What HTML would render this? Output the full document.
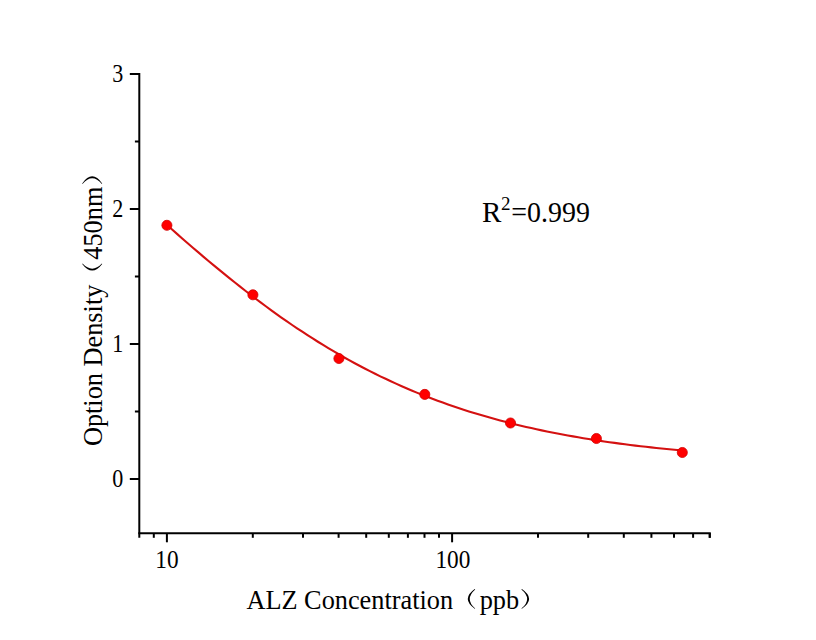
<!DOCTYPE html>
<html><head><meta charset="utf-8"><style>
html,body{margin:0;padding:0;background:#fff;width:816px;height:640px;overflow:hidden}
svg{position:absolute;left:0;top:0}
text{font-family:"Liberation Serif",serif;fill:#000}
</style></head><body>
<svg width="816" height="640" viewBox="0 0 816 640">
<rect width="816" height="640" fill="#fff"/>
<g stroke="#000" stroke-width="2" fill="none" stroke-linecap="butt">
<polyline points="139.3,73.0 139.3,537.8"/>
<polyline points="138.3,533.3 710.8,533.3"/>
<line x1="709.8" y1="533.3" x2="709.8" y2="537.8"/>
<line x1="129.8" y1="479.0" x2="139.3" y2="479.0"/>
<line x1="129.8" y1="344.0" x2="139.3" y2="344.0"/>
<line x1="129.8" y1="209.0" x2="139.3" y2="209.0"/>
<line x1="129.8" y1="74.0" x2="139.3" y2="74.0"/>
<line x1="134.9" y1="411.5" x2="139.3" y2="411.5"/>
<line x1="134.9" y1="276.5" x2="139.3" y2="276.5"/>
<line x1="134.9" y1="141.5" x2="139.3" y2="141.5"/>
<line x1="166.9" y1="533.3" x2="166.9" y2="542.3"/>
<line x1="452.1" y1="533.3" x2="452.1" y2="542.3"/>
<line x1="153.8" y1="533.3" x2="153.8" y2="537.8"/>
<line x1="252.8" y1="533.3" x2="252.8" y2="537.8"/>
<line x1="303.0" y1="533.3" x2="303.0" y2="537.8"/>
<line x1="338.6" y1="533.3" x2="338.6" y2="537.8"/>
<line x1="366.2" y1="533.3" x2="366.2" y2="537.8"/>
<line x1="388.8" y1="533.3" x2="388.8" y2="537.8"/>
<line x1="407.9" y1="533.3" x2="407.9" y2="537.8"/>
<line x1="424.5" y1="533.3" x2="424.5" y2="537.8"/>
<line x1="439.0" y1="533.3" x2="439.0" y2="537.8"/>
<line x1="538.0" y1="533.3" x2="538.0" y2="537.8"/>
<line x1="588.2" y1="533.3" x2="588.2" y2="537.8"/>
<line x1="623.8" y1="533.3" x2="623.8" y2="537.8"/>
<line x1="651.4" y1="533.3" x2="651.4" y2="537.8"/>
<line x1="674.0" y1="533.3" x2="674.0" y2="537.8"/>
<line x1="693.1" y1="533.3" x2="693.1" y2="537.8"/>
<line x1="709.7" y1="533.3" x2="709.7" y2="537.8"/>
</g>
<path d="M166.9,224.98 L172.1,229.57 L177.3,234.15 L182.5,238.70 L187.7,243.22 L192.9,247.71 L198.1,252.17 L203.3,256.60 L208.5,260.98 L213.8,265.33 L219.0,269.64 L224.2,273.90 L229.4,278.12 L234.6,282.29 L239.8,286.42 L245.0,290.49 L250.2,294.52 L255.4,298.49 L260.6,302.41 L265.8,306.28 L271.0,310.09 L276.2,313.84 L281.4,317.54 L286.6,321.17 L291.8,324.75 L297.1,328.27 L302.3,331.73 L307.5,335.13 L312.7,338.47 L317.9,341.75 L323.1,344.96 L328.3,348.12 L333.5,351.21 L338.7,354.24 L343.9,357.22 L349.1,360.13 L354.3,362.98 L359.5,365.77 L364.7,368.50 L369.9,371.17 L375.1,373.78 L380.3,376.33 L385.6,378.82 L390.8,381.26 L396.0,383.64 L401.2,385.96 L406.4,388.23 L411.6,390.44 L416.8,392.60 L422.0,394.71 L427.2,396.76 L432.4,398.76 L437.6,400.71 L442.8,402.61 L448.0,404.46 L453.2,406.26 L458.4,408.01 L463.6,409.72 L468.9,411.38 L474.1,413.00 L479.3,414.58 L484.5,416.11 L489.7,417.59 L494.9,419.04 L500.1,420.45 L505.3,421.82 L510.5,423.14 L515.7,424.43 L520.9,425.69 L526.1,426.91 L531.3,428.09 L536.5,429.24 L541.7,430.35 L546.9,431.44 L552.1,432.49 L557.4,433.51 L562.6,434.50 L567.8,435.46 L573.0,436.39 L578.2,437.29 L583.4,438.17 L588.6,439.02 L593.8,439.84 L599.0,440.64 L604.2,441.42 L609.4,442.17 L614.6,442.90 L619.8,443.61 L625.0,444.29 L630.2,444.95 L635.4,445.60 L640.7,446.22 L645.9,446.82 L651.1,447.41 L656.3,447.97 L661.5,448.52 L666.7,449.05 L671.9,449.57 L677.1,450.07 L682.3,450.55" fill="none" stroke="#d41111" stroke-width="2.1" stroke-linejoin="round"/>
<g fill="#ff0000" stroke="#d00000" stroke-width="0.8">
<circle cx="166.9" cy="225.3" r="5.05"/>
<circle cx="252.9" cy="294.8" r="5.05"/>
<circle cx="338.9" cy="358.5" r="5.05"/>
<circle cx="424.8" cy="394.4" r="5.05"/>
<circle cx="510.5" cy="423.0" r="5.05"/>
<circle cx="596.4" cy="438.5" r="5.05"/>
<circle cx="682.3" cy="452.5" r="5.05"/>
</g>
<g font-size="24" text-anchor="end">
<text transform="translate(123.3,81.8) scale(0.92,1.07)">3</text>
<text transform="translate(123.3,216.8) scale(0.92,1.07)">2</text>
<text transform="translate(123.3,351.8) scale(0.92,1.07)">1</text>
<text transform="translate(123.3,486.8) scale(0.92,1.07)">0</text>
</g>
<g font-size="24" text-anchor="middle">
<text transform="translate(166.9,567.5) scale(0.97,1.07)">10</text>
<text transform="translate(452.9,567.5) scale(0.97,1.07)">100</text>
</g>
<g transform="translate(246.7,608.8)">
<text x="-0.3" y="0" font-size="26.3">ALZ Concentration</text>
<path d="M228.00,-19.70 Q214.20,-9.85 228.00,0.00 L228.50,-0.30 Q217.60,-9.85 228.50,-19.40 Z"/>
<text x="233.0" y="0" font-size="26.3">ppb</text>
<path d="M275.20,-19.70 Q289.60,-9.85 275.20,0.00 L274.70,-0.30 Q286.20,-9.85 274.70,-19.40 Z"/>
</g>
<g transform="translate(102,445.5) rotate(-90)">
<text x="-0.6" y="0" font-size="26.3">Option Density</text>
<path d="M181.50,-19.80 Q168.30,-9.80 181.50,0.20 L182.00,-0.10 Q171.70,-9.80 182.00,-19.50 Z"/>
<text x="185.8" y="0" font-size="26.3">450nm</text>
<path d="M262.10,-19.80 Q276.40,-9.80 262.10,0.20 L261.60,-0.10 Q273.00,-9.80 261.60,-19.50 Z"/>
</g>
<text transform="translate(482,221.8) scale(1,1.03)" font-size="29">R</text>
<text x="501" y="209.7" font-size="19">2</text>
<text transform="translate(511.3,221.8) scale(0.98,1.03)" font-size="28.5">=0.999</text>
</svg>
</body></html>
